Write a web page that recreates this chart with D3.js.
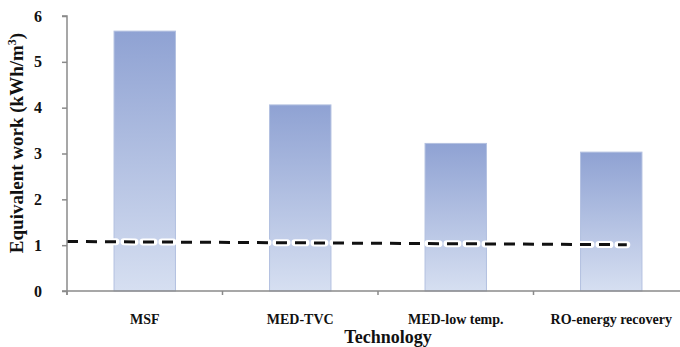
<!DOCTYPE html>
<html>
<head>
<meta charset="utf-8">
<script src="https://cdn.jsdelivr.net/npm/d3@7"></script>
<style>
  html, body { margin: 0; padding: 0; background: #fff; }
  svg { display: block; }
  text { font-family: "Liberation Serif", "Times New Roman", serif; font-weight: bold; fill: #111; }
</style>
</head>
<body>
<svg id="chart" width="680" height="347"></svg>
<script>
// Equivalent work per technology (kWh/m3)
const technologies = ["MSF", "MED-TVC", "MED-low temp.", "RO-energy recovery"];
const equivalentWork = [5.67, 4.06, 3.22, 3.03];

// Dashed reference line: positions in category units along the x axis, and values
const refPos = [0, 3.6];
const refValues = [1.08, 1.01];

const yTicks = [0, 1, 2, 3, 4, 5, 6];

const svg = d3.select("#chart");
const plotLeft = 67, plotBottom = 291, plotTop = 16, plotRight = 689;

const x = d3.scaleBand().domain(technologies).range([plotLeft, plotRight]).padding(0);
const xUnits = d3.scaleLinear().domain([0, technologies.length]).range([plotLeft, plotRight]);
const y = d3.scaleLinear().domain([0, 6]).range([plotBottom, plotTop]);

const barW = x.bandwidth() * 0.395;

// vertical gradient for the bars
const defs = svg.append("defs");
const grad = defs.append("linearGradient").attr("id", "barGrad")
  .attr("x1", 0).attr("y1", 0).attr("x2", 0).attr("y2", 1);
grad.append("stop").attr("offset", "0%").attr("stop-color", "#8fa2d3");
grad.append("stop").attr("offset", "100%").attr("stop-color", "#d6dff1");

svg.append("g").selectAll("rect")
  .data(technologies)
  .join("rect")
  .attr("x", d => x(d) + (x.bandwidth() - barW) / 2)
  .attr("y", (d, i) => y(equivalentWork[i]))
  .attr("width", barW)
  .attr("height", (d, i) => y(0) - y(equivalentWork[i]))
  .attr("fill", "url(#barGrad)")
  .attr("stroke", "#b3c0e0")
  .attr("stroke-width", 1);

// dashed line with a white halo around each dash
const refPts = refPos.map((p, i) => [xUnits(p), y(refValues[i])]);
const line = d3.line();
svg.append("path").attr("d", line(refPts))
  .attr("fill", "none").attr("stroke", "#fff").attr("stroke-width", 7)
  .attr("stroke-dasharray", "11,8").attr("stroke-linecap", "round");
svg.append("path").attr("d", line(refPts))
  .attr("fill", "none").attr("stroke", "#111").attr("stroke-width", 3)
  .attr("stroke-dasharray", "11,8");

// y axis
const yAxis = svg.append("g").attr("transform", `translate(${plotLeft},0)`)
  .call(d3.axisLeft(y).tickValues(yTicks).tickFormat(d3.format("d")).tickSize(5).tickPadding(20));
yAxis.select(".domain").attr("d", `M-5,${plotTop}H0V${plotBottom + 4}`);
yAxis.selectAll("line, .domain").attr("stroke", "#8a8a8a").attr("stroke-width", 1.5);
yAxis.selectAll("text").style("font-size", "16px").attr("fill", "#111");

// x axis: ticks at category boundaries, labels under band centres
const boundaries = d3.range(technologies.length).map(i => xUnits(i));
const xg = svg.append("g");
xg.append("line").attr("x1", plotLeft - 5).attr("x2", 680).attr("y1", plotBottom).attr("y2", plotBottom)
  .attr("stroke", "#8a8a8a").attr("stroke-width", 1.5);
xg.selectAll(".xt").data(boundaries).join("line")
  .attr("x1", d => d).attr("x2", d => d).attr("y1", plotBottom).attr("y2", plotBottom + 4)
  .attr("stroke", "#8a8a8a").attr("stroke-width", 1.5);
xg.selectAll(".xl").data(technologies).join("text")
  .attr("x", d => x(d) + x.bandwidth() / 2)
  .attr("y", 324)
  .attr("text-anchor", "middle")
  .style("font-size", "14px")
  .text(d => d);

// axis titles
svg.append("text").attr("x", 388).attr("y", 343).attr("text-anchor", "middle")
  .style("font-size", "18px").text("Technology");

const yt = svg.append("text")
  .attr("transform", "translate(23,143) rotate(-90)")
  .attr("text-anchor", "middle")
  .style("font-size", "19px");
yt.append("tspan").text("Equivalent work (kWh/m");
yt.append("tspan").attr("dy", -7).style("font-size", "12px").text("3");
yt.append("tspan").attr("dy", 7).text(")");
</script>
</body>
</html>
